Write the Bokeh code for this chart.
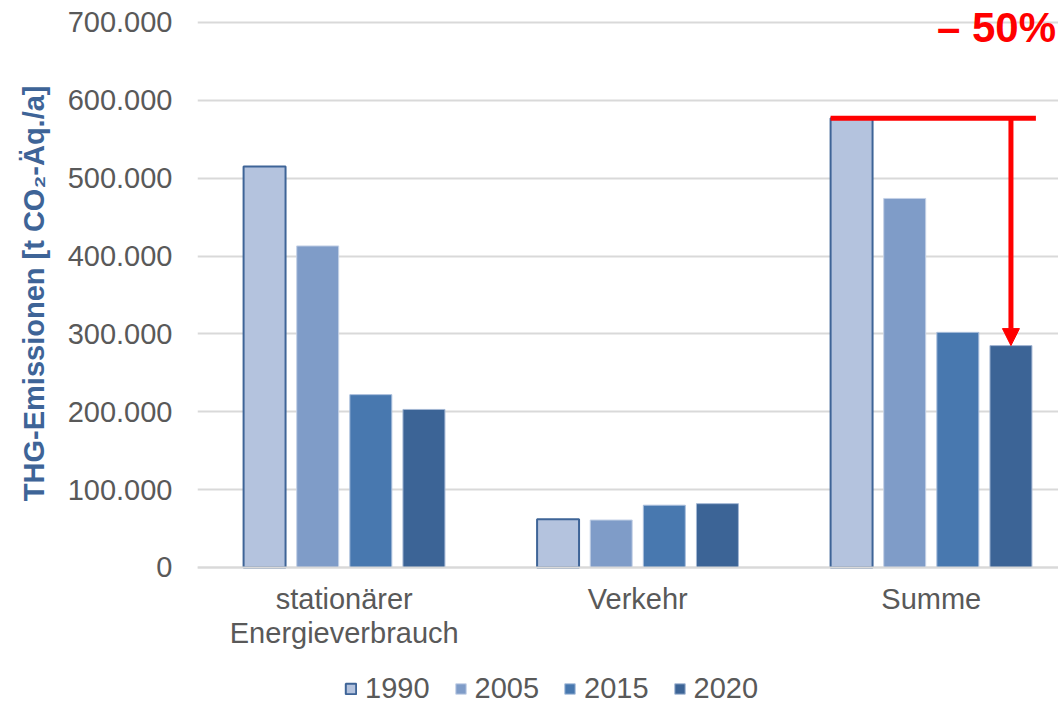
from bokeh.plotting import figure
from bokeh.models import Range1d, FixedTicker, Legend, LegendItem, Arrow, NormalHead, Title
from bokeh.core.properties import value
from bokeh.embed import file_html
from bokeh.resources import INLINE

# --- data -------------------------------------------------------------
categories = ["stationärer\nEnergieverbrauch", "Verkehr", "Summe"]
years = ["1990", "2005", "2015", "2020"]
stationaer = [515000, 413000, 222000, 203000]
verkehr = [62000, 61000, 80000, 82000]
summe = [577000, 474000, 302000, 285000]
y_ticks = [0, 100000, 200000, 300000, 400000, 500000, 600000, 700000]
y_tick_labels = ["0", "100.000", "200.000", "300.000", "400.000", "500.000", "600.000", "700.000"]
y_title = "THG-Emissionen [t CO₂-Äq./a]"
reduction_label = "– 50%"

# --- styling ----------------------------------------------------------
FONT = "Liberation Sans"
TEXT_GREY = "#595959"
GRID_GREY = "#D9D9D9"
fills = ["#B4C3DE", "#7F9CC8", "#4878AF", "#3C6496"]
edges = ["#3E6497", "#C4D1E6", "#A9BEDC", "#A4B7D4"]
edge_widths = [2, 1, 1, 1]
offsets = [-0.2715, -0.0905, 0.0905, 0.2715]
bar_width = 0.143

# the frame runs down to the bottom edge; the category axis sits at y = 0
p = figure(width=1058, height=705,
           x_range=Range1d(-0.5, 2.4335), y_range=Range1d(-177250, 728240),
           output_backend="svg", toolbar_location=None,
           min_border_left=197, min_border_right=0,
           min_border_top=0, min_border_bottom=0)
p.outline_line_color = None
p.background_fill_color = "white"
p.border_fill_color = "white"

# bars, one renderer per year
renderers = []
for j, yr in enumerate(years):
    xs = [i + offsets[j] for i in range(len(categories))]
    tops = [stationaer[j], verkehr[j], summe[j]]
    r = p.vbar(x=xs, top=tops, width=bar_width, bottom=0,
               fill_color=fills[j], line_color=edges[j], line_width=edge_widths[j])
    renderers.append(r)

# category axis
p.xaxis.fixed_location = 0
p.xaxis.ticker = FixedTicker(ticks=list(range(len(categories))))
p.xaxis.major_label_overrides = {i: c for i, c in enumerate(categories)}
p.xaxis.major_label_text_font = FONT
p.xaxis.major_label_text_font_size = "29px"
p.xaxis.major_label_text_color = TEXT_GREY
p.xaxis.major_label_text_line_height = 1.05
p.xaxis.major_label_standoff = 10
p.xaxis.axis_line_color = GRID_GREY
p.xaxis.axis_line_width = 2
p.xaxis.major_tick_line_color = None
p.xaxis.minor_tick_line_color = None

# value axis
p.yaxis.ticker = FixedTicker(ticks=y_ticks)
p.yaxis.major_label_overrides = {t: l for t, l in zip(y_ticks, y_tick_labels)}
p.yaxis.major_label_text_font = FONT
p.yaxis.major_label_text_font_size = "29px"
p.yaxis.major_label_text_color = TEXT_GREY
p.yaxis.major_label_standoff = 19
p.yaxis.axis_line_color = None
p.yaxis.major_tick_line_color = None
p.yaxis.minor_tick_line_color = None

# value-axis title, its upper end just below the 700.000 line
p.add_layout(Title(text=y_title, align="right", offset=85, standoff=29,
                   text_font=FONT, text_font_style="bold", text_font_size="29px",
                   text_color="#3E6497"), "left")

p.xgrid.grid_line_color = None
p.ygrid.ticker = FixedTicker(ticks=y_ticks)
p.ygrid.grid_line_color = GRID_GREY
p.ygrid.grid_line_width = 2

# reduction marker on the totals
sum_idx = 2
x_left = sum_idx + offsets[0] - bar_width / 2
x_arrow = sum_idx + offsets[3]
x_right = x_arrow + 0.085
p.segment(x0=[x_left], y0=[summe[0]], x1=[x_right], y1=[summe[0]],
          line_color="#FF0000", line_width=5)
p.add_layout(Arrow(end=NormalHead(size=17, fill_color="#FF0000", line_color="#FF0000", line_width=1),
                   x_start=x_arrow, y_start=summe[0], x_end=x_arrow, y_end=summe[3],
                   line_color="#FF0000", line_width=5))
p.text(x=[2.425], y=[693000], text=[reduction_label],
       text_align="right", text_baseline="middle",
       text_font=value(FONT), text_font_style="bold", text_font_size="42px",
       text_color="#FF0000")

# legend along the bottom edge
legend = Legend(items=[LegendItem(label=yr, renderers=[r]) for yr, r in zip(years, renderers)],
                orientation="horizontal", location=(147, 0))
legend.label_text_font = FONT
legend.label_text_font_size = "29px"
legend.label_text_color = TEXT_GREY
legend.glyph_width = 13
legend.glyph_height = 13
legend.label_standoff = 8
legend.spacing = 24
legend.padding = 0
legend.margin = 0
legend.border_line_color = None
legend.background_fill_alpha = 0
p.add_layout(legend)

open("out.html", "w").write(file_html(p, INLINE))
